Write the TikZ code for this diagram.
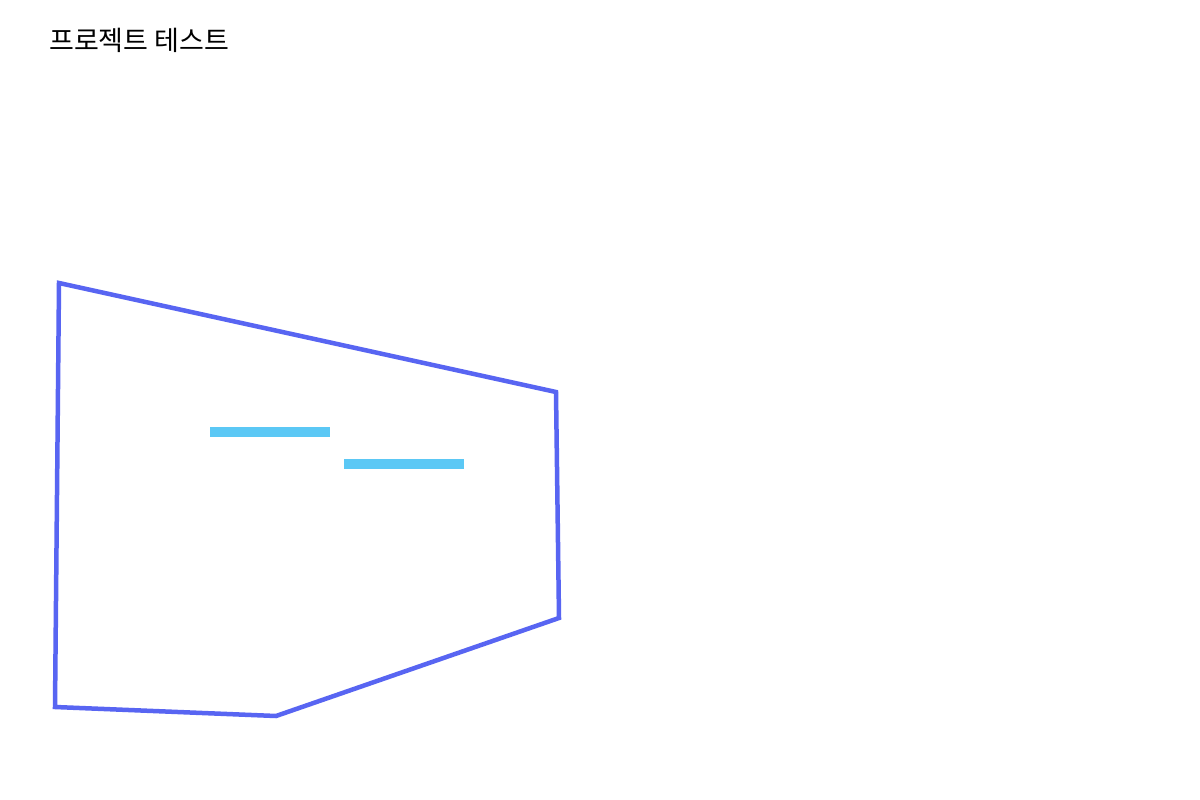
\documentclass[tikz,border=0pt]{standalone}
\usepackage{fontspec}
\newfontfamily\krfont{Noto Sans CJK KR}
\definecolor{edgeblue}{HTML}{5865F2}
\definecolor{barcyan}{HTML}{5BC8F5}
\begin{document}
\begin{tikzpicture}[x=1pt,y=-1pt,
  outline/.style={draw=edgeblue,line width=4.5pt,line join=miter},
  bar/.style={fill=barcyan,draw=none},
  title/.style={font=\krfont\fontsize{27}{31}\selectfont,anchor=west,inner sep=0pt}]
\useasboundingbox[fill=white] (0,0) rectangle (1200,800);
\node[title] (t) at (49,40) {프로젝트 테스트};
\draw[outline] (59,283) -- (556,392) -- (559,618) -- (276,716) -- (55,707) -- cycle;
\fill[bar] (210,427) rectangle (330,437);
\fill[bar] (344,459) rectangle (464,469);
\end{tikzpicture}
\end{document}
